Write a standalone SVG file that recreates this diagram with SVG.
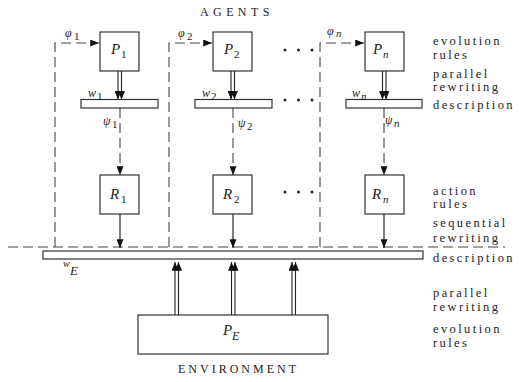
<svg xmlns="http://www.w3.org/2000/svg" width="520" height="382" viewBox="0 0 520 382">
  <defs>
    <marker id="head" viewBox="0 0 10 8" refX="10" refY="4" markerWidth="9" markerHeight="7" markerUnits="userSpaceOnUse" orient="auto">
      <path d="M0,0 L10,4 L0,8 z" fill="#111"/>
    </marker>
    <marker id="head2" viewBox="0 0 10 8" refX="10" refY="4" markerWidth="9" markerHeight="7" markerUnits="userSpaceOnUse" orient="auto">
      <path d="M0,0 L10,4 L0,8 z" fill="#111"/>
    </marker>
  </defs>
  <style>
    .box { fill: #fff; stroke: #333; stroke-width: 1.2; }
    .bar { fill: #fff; stroke: #333; stroke-width: 1.2; }
    .dash { fill: none; stroke: #444; stroke-width: 1.1; stroke-dasharray: 10 5; }
    .solid { fill: none; stroke: #111; stroke-width: 1.1; }
    .dbl { fill: none; stroke: #222; stroke-width: 1.1; marker-end: url(#head2); }
    text { font-family: "Liberation Serif", "DejaVu Serif", "Times New Roman", serif; fill: #222; }
    .side { font-size: 12.5px; letter-spacing: 2.4px; }
    .cap { font-size: 12px; }
    .mi { font-style: italic; }
    .dot { fill: #222; }
  </style>

  <!-- titles -->
  <text class="cap" x="200" y="16" letter-spacing="4.4">AGENTS</text>
  <text class="cap" x="178" y="373" letter-spacing="3.0">ENVIRONMENT</text>

  <!-- side annotations -->
  <g id="annotations">
    <text class="side" x="433" y="45">evolution</text>
    <text class="side" x="433" y="59">rules</text>
    <text class="side" x="433" y="78">parallel</text>
    <text class="side" x="433" y="91">rewriting</text>
    <text class="side" x="433" y="109">description</text>
    <text class="side" x="433" y="195">action</text>
    <text class="side" x="433" y="208">rules</text>
    <text class="side" x="433" y="227">sequential</text>
    <text class="side" x="433" y="242">rewriting</text>
    <text class="side" x="433" y="262">description</text>
    <text class="side" x="433" y="297">parallel</text>
    <text class="side" x="433" y="311">rewriting</text>
    <text class="side" x="433" y="333">evolution</text>
    <text class="side" x="433" y="347">rules</text>
  </g>

  <!-- connectors -->
  <g id="connectors">
    <!-- feedback from the environment description to each agent -->
    <path class="dash" d="M8,247 H505"/>
    <path class="dash" d="M55,247 V43 H99" marker-end="url(#head)"/>
    <path class="dash" d="M169,247 V43 H212" marker-end="url(#head)"/>
    <path class="dash" d="M320,247 V43 H364" marker-end="url(#head)"/>

    <!-- parallel rewriting P_i -> w_i -->
    <line class="dbl" x1="118" y1="71" x2="118" y2="99.5"/>
    <line class="dbl" x1="121.5" y1="71" x2="121.5" y2="99.5"/>
    <line class="dbl" x1="231" y1="71" x2="231" y2="99.5"/>
    <line class="dbl" x1="234.5" y1="71" x2="234.5" y2="99.5"/>
    <line class="dbl" x1="382.5" y1="71" x2="382.5" y2="99.5"/>
    <line class="dbl" x1="386" y1="71" x2="386" y2="99.5"/>

    <!-- psi: description -> action rules -->
    <path class="dash" d="M120,108 V175" marker-end="url(#head)"/>
    <path class="dash" d="M233,108 V175" marker-end="url(#head)"/>
    <path class="dash" d="M384,108 V175" marker-end="url(#head)"/>

    <!-- sequential rewriting R_i -> w_E -->
    <line class="solid" x1="120" y1="214" x2="120" y2="248" marker-end="url(#head)"/>
    <line class="solid" x1="233" y1="214" x2="233" y2="248" marker-end="url(#head)"/>
    <line class="solid" x1="384" y1="214" x2="384" y2="248" marker-end="url(#head)"/>

    <!-- parallel rewriting P_E -> w_E -->
    <line class="dbl" x1="175" y1="315" x2="175" y2="262"/>
    <line class="dbl" x1="178.5" y1="315" x2="178.5" y2="262"/>
    <line class="dbl" x1="231.5" y1="315" x2="231.5" y2="262"/>
    <line class="dbl" x1="235" y1="315" x2="235" y2="262"/>
    <line class="dbl" x1="292" y1="315" x2="292" y2="262"/>
    <line class="dbl" x1="295.5" y1="315" x2="295.5" y2="262"/>
  </g>

  <!-- ellipses between agent 2 and agent n -->
  <g id="ellipses">
    <circle class="dot" cx="285" cy="50" r="1.5"/>
    <circle class="dot" cx="298.5" cy="50" r="1.5"/>
    <circle class="dot" cx="312" cy="50" r="1.5"/>
    <circle class="dot" cx="285" cy="100" r="1.5"/>
    <circle class="dot" cx="298.5" cy="100" r="1.5"/>
    <circle class="dot" cx="312" cy="100" r="1.5"/>
    <circle class="dot" cx="285" cy="192" r="1.5"/>
    <circle class="dot" cx="298.5" cy="192" r="1.5"/>
    <circle class="dot" cx="312" cy="192" r="1.5"/>
  </g>

  <!-- agent 1 -->
  <g id="agent1">
    <rect class="box" x="100" y="32" width="39" height="39"/>
    <text class="mi" x="111" y="54" font-size="15">P</text>
    <text x="121" y="58" font-size="11">1</text>
    <rect class="bar" x="81" y="99.5" width="77" height="8.5"/>
    <text class="mi" x="88" y="97" font-size="12">w</text>
    <text x="97" y="100" font-size="11">1</text>
    <text class="mi" x="65" y="37" font-size="12">φ</text>
    <text x="74" y="40" font-size="11">1</text>
    <text class="mi" x="103" y="125" font-size="12">ψ</text>
    <text x="112" y="128" font-size="11">1</text>
    <rect class="box" x="100" y="175" width="39" height="39"/>
    <text class="mi" x="110" y="199" font-size="15">R</text>
    <text x="121" y="203" font-size="11">1</text>
  </g>

  <!-- agent 2 -->
  <g id="agent2">
    <rect class="box" x="213" y="32" width="39" height="39"/>
    <text class="mi" x="224" y="54" font-size="15">P</text>
    <text x="234" y="58" font-size="11">2</text>
    <rect class="bar" x="195" y="99.5" width="77" height="8.5"/>
    <text class="mi" x="202" y="97" font-size="12">w</text>
    <text x="211" y="100" font-size="11">2</text>
    <text class="mi" x="178" y="37" font-size="12">φ</text>
    <text x="187" y="40" font-size="11">2</text>
    <text class="mi" x="238" y="127" font-size="12">ψ</text>
    <text x="247" y="130" font-size="11">2</text>
    <rect class="box" x="213" y="175" width="39" height="39"/>
    <text class="mi" x="223" y="199" font-size="15">R</text>
    <text x="234" y="203" font-size="11">2</text>
  </g>

  <!-- agent n -->
  <g id="agentn">
    <rect class="box" x="365" y="32" width="39" height="39"/>
    <text class="mi" x="373" y="54" font-size="15">P</text>
    <text class="mi" x="383" y="58" font-size="11">n</text>
    <rect class="bar" x="346" y="99.5" width="76" height="8.5"/>
    <text class="mi" x="352" y="97" font-size="12">w</text>
    <text class="mi" x="361" y="100" font-size="11">n</text>
    <text class="mi" x="327" y="35" font-size="12">φ</text>
    <text class="mi" x="336" y="37" font-size="11">n</text>
    <text class="mi" x="385" y="124" font-size="12">ψ</text>
    <text class="mi" x="394" y="127" font-size="11">n</text>
    <rect class="box" x="365" y="175" width="39" height="39"/>
    <text class="mi" x="372" y="199" font-size="15">R</text>
    <text class="mi" x="383" y="203" font-size="11">n</text>
  </g>

  <!-- environment -->
  <g id="environment">
    <rect class="bar" x="43" y="251" width="380" height="8"/>
    <text class="mi" x="63" y="267" font-size="10">w</text>
    <text class="mi" x="70" y="275" font-size="13">E</text>
    <rect class="box" x="138" y="315" width="190" height="39"/>
    <text class="mi" x="223" y="335" font-size="15">P</text>
    <text class="mi" x="232" y="340" font-size="12">E</text>
  </g>
</svg>
